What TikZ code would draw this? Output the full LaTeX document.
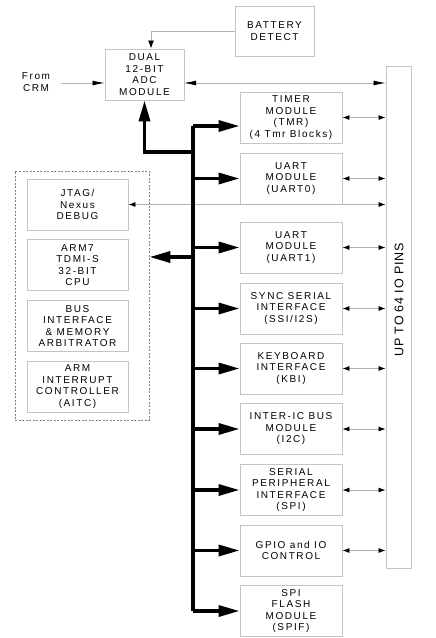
\documentclass[tikz,border=0pt]{standalone}
\usepackage{fontspec}
\setmainfont{Liberation Sans}
\newfontfamily\lbl[LetterSpace=16]{Liberation Sans}
\newfontfamily\pinfont[LetterSpace=6]{Liberation Sans}
\usetikzlibrary{arrows.meta}
\definecolor{boxgray}{HTML}{C4C4C4}
\definecolor{wiregray}{HTML}{B0B0B0}
\tikzset{
  blk/.style={draw=boxgray, line width=0.9pt, inner sep=0pt, align=center,
    font=\lbl\fontsize{10}{11.5}\selectfont, text=black},
  periph/.style={blk, minimum width=102pt, minimum height=51pt},
  cpublk/.style={blk, minimum width=101pt, minimum height=51pt},
  buswire/.style={line width=3.4pt, black},
  busarrow/.style={line width=3.4pt, black, -{Triangle[length=21pt,width=11pt]}},
  dbl/.style={wiregray, line width=0.8pt, {Latex[length=7pt,width=5pt,black]}-{Latex[length=7pt,width=5pt,black]}},
  longdbl/.style={wiregray, line width=0.8pt, {Latex[length=12pt,width=5pt,black]}-{Latex[length=12pt,width=5pt,black]}},
  single/.style={wiregray, line width=0.8pt, -{Latex[length=12pt,width=5pt,black]}},
  batarrow/.style={wiregray, line width=0.8pt, -{Latex[length=8pt,width=6pt,black]}},
  lbltext/.style={inner sep=0pt, align=center, font=\lbl\fontsize{10}{11.5}\selectfont}
}
\begin{document}
\begin{tikzpicture}[x=1pt,y=-1pt]
\useasboundingbox (0,0) rectangle (436,638);
% top blocks
\node[blk, minimum width=79pt, minimum height=50pt] (bat) at (274.5,31) {BATTERY\\DETECT};
\node[blk, minimum width=79pt, minimum height=51pt] (adc) at (144.5,74.5) {DUAL\\12-BIT\\ADC\\MODULE};
\node[lbltext] (crm) at (36,82) {From\\CRM};
\coordinate (crmend) at (61,83);
\coordinate (adcline) at (184,83);
% IO pins
\node[draw=boxgray, line width=0.9pt, minimum width=25pt, minimum height=502pt, inner sep=0pt] (io) at (398.5,317) {};
\node[rotate=90, inner sep=0pt, font=\pinfont\fontsize{12.5}{14}\selectfont] (iolbl) at (399,300) {UP TO 64 IO PINS};
% peripherals
\node[periph] (tmr)   at (291,117.5) {TIMER\\MODULE\\(TMR)\\(4 Tmr Blocks)};
\node[periph] (uart0) at (291,178.5) {UART\\MODULE\\(UART0)};
\node[periph] (uart1) at (291,247.5) {UART\\MODULE\\(UART1)};
\node[periph] (ssi)   at (291,308.5) {SYNC SERIAL\\INTERFACE\\(SSI/I2S)};
\node[periph] (kbi)   at (291,368.5) {KEYBOARD\\INTERFACE\\(KBI)};
\node[periph] (i2c)   at (291,429) {INTER-IC BUS\\MODULE\\(I2C)};
\node[periph] (spi)   at (291,490) {SERIAL\\PERIPHERAL\\INTERFACE\\(SPI)};
\node[periph] (gpio)  at (291,550.5) {GPIO and IO\\CONTROL};
\node[periph] (spif)  at (291,611) {SPI\\FLASH\\MODULE\\(SPIF)};
% CPU cluster
\node[draw=gray, line width=0.9pt, dash pattern=on 2pt off 1.5pt, minimum width=134pt, minimum height=249pt, inner sep=0pt] (cpu) at (82,295.5) {};
\node[cpublk] (jtag) at (77.5,204.5) {JTAG/\\Nexus\\DEBUG};
\node[cpublk] (arm)  at (77.5,265) {ARM7\\TDMI-S\\32-BIT\\CPU};
\node[cpublk] (biu)  at (77.5,326) {BUS\\INTERFACE\\\& MEMORY\\ARBITRATOR};
\node[cpublk] (aitc) at (77.5,386.5) {ARM\\INTERRUPT\\CONTROLLER\\(AITC)};
% thin connectors
\draw[batarrow] (bat.west) -| (adc.north -| 151,0);
\draw[single] (crmend) -- (adc.west |- crmend);
\draw[longdbl] (adcline) -- (io.west |- adcline);
\draw[dbl] (jtag.east) -- (jtag.east -| io.west);
\foreach \n in {tmr,uart0,uart1,ssi,kbi,i2c,spi,gpio}
  \draw[dbl] (\n.east) -- (\n.east -| io.west);
% bus
\coordinate (btop) at (193,126);
\coordinate (bbot) at (193,611);
\coordinate (bjoin) at (193,152);
\coordinate (bcpu) at (193,257);
\draw[buswire] (btop) -- (bbot);
\draw[busarrow] (btop) -- (btop -| tmr.west);
\draw[busarrow, line join=miter] (bjoin) -| (adc.south);
\draw[busarrow] (bcpu) -- (bcpu -| cpu.east);
\foreach \n in {uart0,uart1,ssi,kbi,i2c,spi,gpio,spif}
  \draw[busarrow] (\n.west -| btop) -- (\n.west);
\end{tikzpicture}
\end{document}
